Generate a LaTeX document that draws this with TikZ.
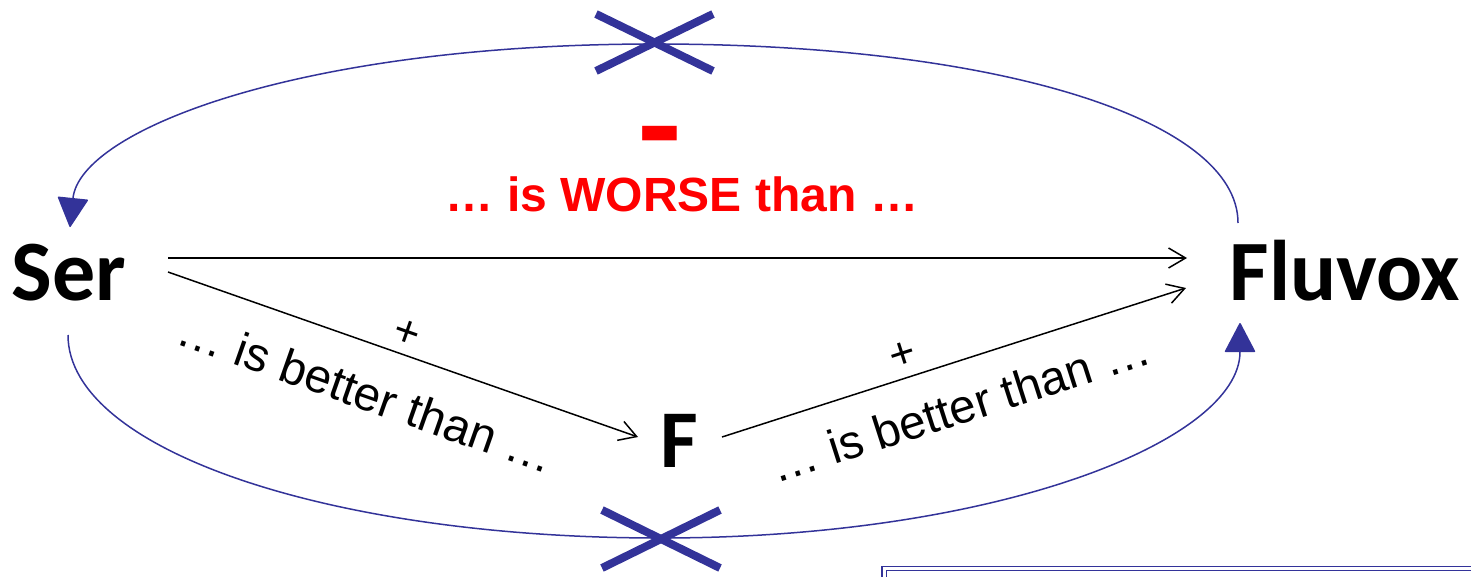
\documentclass[tikz,border=0pt]{standalone}
\usepackage{fontspec}
\setmainfont{Liberation Sans}
\newfontfamily\carlito{Carlito}
\usetikzlibrary{arrows.meta,calc}
\definecolor{dblue}{RGB}{51,51,153}
\definecolor{dred}{RGB}{255,0,0}
\begin{document}
\begin{tikzpicture}[x=1pt,y=-1pt,
  big/.style={font=\carlito\bfseries\fontsize{86}{86}\selectfont, inner sep=0pt, anchor=base},
  lbl/.style={font=\fontsize{47.5}{47.5}\selectfont, inner sep=0pt, anchor=base},
  redlbl/.style={font=\bfseries\fontsize{48}{48}\selectfont, text=dred, inner sep=0pt, anchor=base},
  minus/.style={font=\carlito\bfseries\fontsize{140}{140}\selectfont, text=dred, inner sep=0pt},
  plus/.style={font=\fontsize{44}{44}\selectfont, inner sep=0pt},
  blk/.style={line width=1.5pt, -{Straight Barb[length=17pt,width=20pt,line width=1.5pt]}},
  blu/.style={dblue, line width=1.5pt, -{Triangle[length=30pt,width=31pt,round]}},
  crs/.style={dblue, line width=8pt},
  frame/.style={dblue, line width=1.6pt, double=white, double distance=2.5pt},
]
\useasboundingbox (0,0) rectangle (1471,576);
% nodes
\node[big] (ser) at (69,300) {Ser};
\node[big] (flu) at (1345,300) {Fluvox};
\node[big, font=\carlito\bfseries\fontsize{82}{82}\selectfont] (f) at (679,467) {F};
% black connectors
\draw[blk] ($(ser.base)+(99,-42)$) -- ($(flu.base)+(-158,-42)$);
\draw[blk] ($(ser.base)+(99,-28)$) -- ($(f.base)+(-41,-30)$);
\draw[blk] ($(f.base)+(43,-30)$) -- ($(flu.base)+(-159,-12)$);
% blue curves
\draw[blu] ($(flu.base)+(-107,-77)$) .. controls (1238,120) and (1000,44) .. (655,44)
  .. controls (300,44) and (80,130) .. ($(ser.base)+(1,-73)$);
\draw[blu] ($(ser.base)+(-1,35)$) .. controls (68,450) and (330,538) .. (660,538)
  .. controls (1000,538) and (1240,440) .. ($(flu.base)+(-105,23)$);
% crosses
\draw[crs] (596,14) -- (713,71);
\draw[crs] (596,71) -- (713,14);
\draw[crs] (602,510) -- (720,568);
\draw[crs] (602,568) -- (720,510);
% labels
\node[minus] (mn) at (660,150) {-};
\node[redlbl] (worse) at (682,211) {… is WORSE than …};
\node[lbl, rotate=-19.4] (lb) at (361,409) {… is better than …};
\node[lbl, rotate=17.8] (rb) at (965,423) {… is better than …};
\node[plus, rotate=-19.3] (p1) at (407,334) {+};
\node[plus, rotate=17.8] (p2) at (903,355) {+};
% frame at bottom right
\draw[frame] (884.3,568.5) rectangle (1520,640);
\end{tikzpicture}
\end{document}
